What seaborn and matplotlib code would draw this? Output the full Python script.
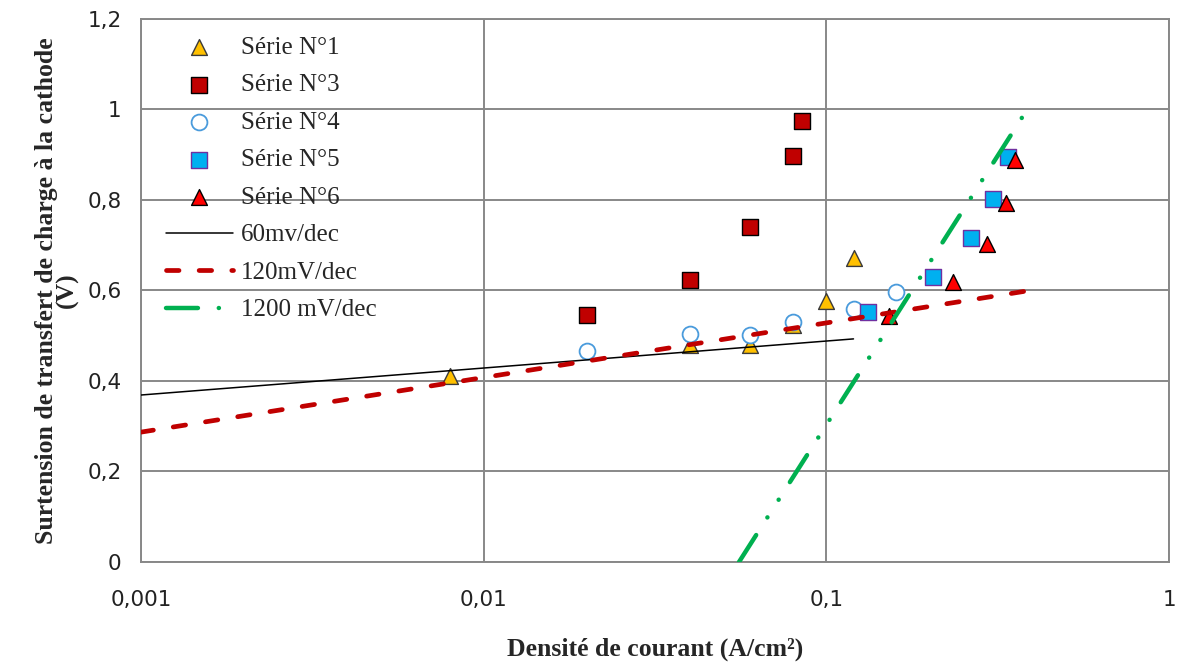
import numpy as np
import pandas as pd
import seaborn as sns
import matplotlib
matplotlib.use("Agg")
import matplotlib.pyplot as plt
from matplotlib.ticker import FixedLocator, NullLocator

# values
s1_x = [0.008, 0.04, 0.06, 0.08, 0.1, 0.12]
s1_y = [0.411, 0.48, 0.48, 0.524, 0.577, 0.672]
s3_x = [0.02, 0.04, 0.06, 0.08, 0.085]
s3_y = [0.546, 0.623, 0.740, 0.897, 0.975]
s4_x = [0.02, 0.04, 0.06, 0.08, 0.12, 0.16]
s4_y = [0.466, 0.504, 0.502, 0.530, 0.559, 0.597]
s5_x = [0.132, 0.205, 0.264, 0.306, 0.339]
s5_y = [0.552, 0.630, 0.716, 0.802, 0.895]
s6_x = [0.152, 0.234, 0.294, 0.334, 0.355]
s6_y = [0.544, 0.619, 0.703, 0.793, 0.888]

# fitted Tafel lines (end points)
l60_x = [0.001, 0.12]
l60_y = [0.369, 0.493]
l120_x = [0.001, 0.4]
l120_y = [0.287, 0.601]
l1200_x = [0.0556, 0.393]
l1200_y = [0.0, 1.01]

x_ticks = [0.001, 0.01, 0.1, 1]
x_labels = ["0,001", "0,01", "0,1", "1"]
y_ticks = [0, 0.2, 0.4, 0.6, 0.8, 1.0, 1.2]
y_labels = ["0", "0,2", "0,4", "0,6", "0,8", "1", "1,2"]

sns.set_style("white")
plt.rcParams["font.family"] = ["Liberation Serif", "DejaVu Serif"]
plt.rcParams["lines.scale_dashes"] = False

fig = plt.figure(figsize=(11.78, 6.68), dpi=100)
ax = fig.add_axes([0.1197, 0.1587, 0.8727, 0.8129])

ms = 130
sns.scatterplot(x=s1_x, y=s1_y, marker="^", s=ms, color="#FFC000",
                edgecolor="#3a3a3a", linewidth=1, label="Série N°1", ax=ax, zorder=3)
sns.scatterplot(x=s3_x, y=s3_y, marker="s", s=ms, color="#C00000",
                edgecolor="black", linewidth=1, label="Série N°3", ax=ax, zorder=3)
sns.scatterplot(x=s4_x, y=s4_y, marker="o", s=ms, color="white",
                edgecolor="#4A9BDC", linewidth=1.3, label="Série N°4", ax=ax, zorder=3)
sns.scatterplot(x=s5_x, y=s5_y, marker="s", s=ms, color="#00B0F0",
                edgecolor="#7030A0", linewidth=1, label="Série N°5", ax=ax, zorder=3)
sns.scatterplot(x=s6_x, y=s6_y, marker="^", s=ms, color="#FF0000",
                edgecolor="black", linewidth=1, label="Série N°6", ax=ax, zorder=3)

sns.lineplot(x=l60_x, y=l60_y, color="black", linewidth=1.1, label="60mv/dec", ax=ax, zorder=4)
sns.lineplot(x=l120_x, y=l120_y, color="#C00000", linewidth=3.4, label="120mV/dec", ax=ax, zorder=4)
sns.lineplot(x=l1200_x, y=l1200_y, color="#00B050", linewidth=3.2, label="1200 mV/dec", ax=ax, zorder=4)

lines = ax.get_lines()
lines[1].set_dashes((9, 14.5))
lines[1].set_dash_capstyle("round")
lines[2].set_dashes((23, 15, 0.1, 15, 0.1, 15))
lines[2].set_dash_capstyle("round")

ax.set_xscale("log")
ax.set_xlim(0.001, 1)
ax.set_ylim(0, 1.2)
ax.xaxis.set_major_locator(FixedLocator(x_ticks))
ax.xaxis.set_minor_locator(NullLocator())
ax.set_xticklabels(x_labels, family="DejaVu Sans", fontsize=15.5)
ax.set_yticks(y_ticks)
ax.set_yticklabels(y_labels, family="DejaVu Sans", fontsize=15.5)
ax.tick_params(axis="both", length=6, width=1.2, color="#888888", pad=14, labelcolor="#222222")
ax.tick_params(axis="y", pad=8)

ax.grid(True, color="#888888", linewidth=1.4)
ax.set_axisbelow(True)
for sp in ax.spines.values():
    sp.set_color("#888888")
    sp.set_linewidth(1.4)

ax.set_xlabel("Densité de courant (A/cm²)", fontsize=18.5, fontweight="bold", labelpad=20)
ax.set_ylabel("Surtension de transfert de charge à la cathode\n(V)", fontsize=18.5,
              fontweight="bold", labelpad=6, linespacing=0.85)

leg = ax.legend(loc="upper left", bbox_to_anchor=(0.007, 1.0), frameon=False, fontsize=18,
                handlelength=2.7, handletextpad=0.32, labelspacing=0.6, borderaxespad=0.3)

fig.savefig("out.png", dpi=100)
